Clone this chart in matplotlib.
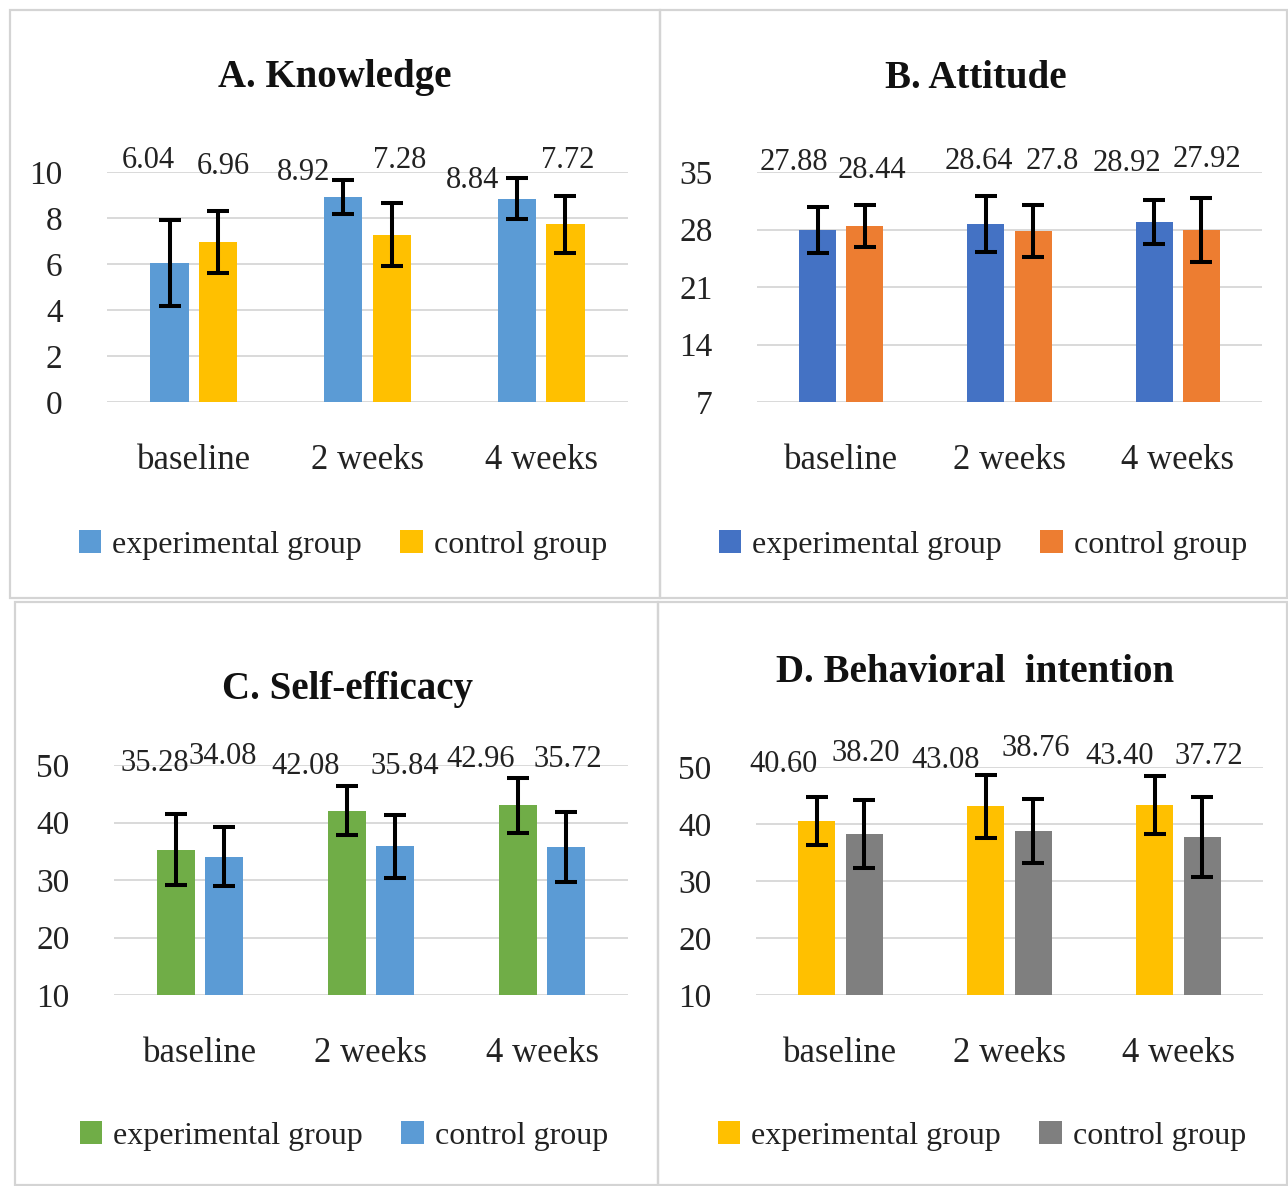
import matplotlib
matplotlib.use("Agg")
import matplotlib.pyplot as plt
from matplotlib.patches import Rectangle, Patch
import numpy as np

plt.rcParams['font.family'] = ['Liberation Serif', 'DejaVu Serif']

groups = ['baseline', '2 weeks', '4 weeks']
series_names = ['experimental group', 'control group']

knowledge_exp = [6.04, 8.92, 8.84]
knowledge_ctl = [6.96, 7.28, 7.72]
knowledge_exp_sd = [1.88, 0.75, 0.88]
knowledge_ctl_sd = [1.35, 1.37, 1.24]

attitude_exp = [27.88, 28.64, 28.92]
attitude_ctl = [28.44, 27.8, 27.92]
attitude_exp_sd = [2.8, 3.4, 2.7]
attitude_ctl_sd = [2.6, 3.2, 3.9]

efficacy_exp = [35.28, 42.08, 42.96]
efficacy_ctl = [34.08, 35.84, 35.72]
efficacy_exp_sd = [6.2, 4.2, 4.8]
efficacy_ctl_sd = [5.1, 5.5, 6.1]

intention_exp = [40.60, 43.08, 43.40]
intention_ctl = [38.20, 38.76, 37.72]
intention_exp_sd = [4.2, 5.5, 5.1]
intention_ctl_sd = [6.0, 5.6, 7.0]

W, H = 1288, 1186
fig = plt.figure(figsize=(W / 100, H / 100), dpi=100)


def fx(x):
    return x / W


def fy(y):
    return 1 - y / H


# panel frames (pixel boxes: x0, y0, x1, y1)
for x0, y0, x1, y1 in [(10, 10, 660, 598), (660, 10, 1287, 598),
                       (15, 602, 658, 1185), (658, 602, 1287, 1185)]:
    fig.add_artist(Rectangle((fx(x0), fy(y1)), fx(x1 - x0), (y1 - y0) / H,
                             transform=fig.transFigure, fill=False,
                             edgecolor='#d4d4d4', lw=1.6))

panels = [
    dict(title='A. Knowledge', exp=knowledge_exp, ctl=knowledge_ctl,
         exp_sd=knowledge_exp_sd, ctl_sd=knowledge_ctl_sd,
         colors=('#5b9bd5', '#ffc000'), ticks=[0, 2, 4, 6, 8, 10], fmt='{:.2f}',
         box=(107, 172, 628, 402), title_xy=(335, 78), legend_xy=(343, 545),
         lab_x=([-0.264, 0.634, 1.607], [0.168, 1.187, 2.154]),
         lab_y=([10.48, 10.0, 9.65], [10.26, 10.48, 10.48])),
    dict(title='B. Attitude', exp=attitude_exp, ctl=attitude_ctl,
         exp_sd=attitude_exp_sd, ctl_sd=attitude_ctl_sd,
         colors=('#4472c4', '#ed7d31'), ticks=[7, 14, 21, 28, 35], fmt='{:g}',
         box=(757, 172, 1262, 402), title_xy=(976, 78), legend_xy=(983, 545),
         lab_x=([-0.28, 0.819, 1.698], [0.183, 1.253, 2.174]),
         lab_y=([36.1, 36.3, 36.0], [35.2, 36.3, 36.5])),
    dict(title='C. Self-efficacy', exp=efficacy_exp, ctl=efficacy_ctl,
         exp_sd=efficacy_exp_sd, ctl_sd=efficacy_ctl_sd,
         colors=('#70ad47', '#5b9bd5'), ticks=[10, 20, 30, 40, 50], fmt='{:.2f}',
         box=(114, 765, 628, 995), title_xy=(347, 690), legend_xy=(344, 1136),
         lab_x=([-0.26, 0.62, 1.637], [0.136, 1.199, 2.15]),
         lab_y=([50.3, 49.8, 51.0], [51.4, 49.7, 51.0])),
    dict(title='D. Behavioral  intention', exp=intention_exp, ctl=intention_ctl,
         exp_sd=intention_exp_sd, ctl_sd=intention_ctl_sd,
         colors=('#ffc000', '#7f7f7f'), ticks=[10, 20, 30, 40, 50], fmt='{:.2f}',
         box=(756, 767, 1263, 995), title_xy=(975, 673), legend_xy=(982, 1136),
         lab_x=([-0.34, 0.624, 1.654], [0.151, 1.157, 2.18]),
         lab_y=([50.5, 51.1, 51.8], [52.3, 53.2, 51.8])),
]

x = np.arange(len(groups))
bw = 0.22
off = 0.14

for p in panels:
    x0, y0, x1, y1 = p['box']
    ax = fig.add_axes([fx(x0), fy(y1), fx(x1 - x0), (y1 - y0) / H])
    c_exp, c_ctl = p['colors']
    err_kw = dict(ecolor='black', elinewidth=2.9, capsize=8, capthick=2.9)
    ax.bar(x - off, p['exp'], bw, yerr=p['exp_sd'], color=c_exp,
           error_kw=err_kw, zorder=2)
    ax.bar(x + off, p['ctl'], bw, yerr=p['ctl_sd'], color=c_ctl,
           error_kw=err_kw, zorder=2)
    ax.set_xlim(-0.5, len(groups) - 0.5)
    ax.set_ylim(p['ticks'][0], p['ticks'][-1])
    ax.set_yticks(p['ticks'])
    ax.set_xticks(x)
    ax.set_xticklabels(groups, fontsize=25)
    ax.tick_params(axis='both', length=0, colors='#222222')
    ax.tick_params(axis='y', pad=32, labelsize=24)
    ax.tick_params(axis='x', pad=30)
    ax.grid(axis='y', color='#d9d9d9', lw=1.4, zorder=0)
    ax.set_axisbelow(True)
    for s in ax.spines.values():
        s.set_visible(False)

    # value labels above the bars
    for vals, xs, ys in [(p['exp'], p['lab_x'][0], p['lab_y'][0]),
                         (p['ctl'], p['lab_x'][1], p['lab_y'][1])]:
        for v, lx, ly in zip(vals, xs, ys):
            ax.text(lx, ly, p['fmt'].format(v), ha='center', va='center',
                    fontsize=22, color='#222222', clip_on=False)

    tx, ty = p['title_xy']
    fig.text(fx(tx), fy(ty), p['title'], ha='center', va='center',
             fontsize=28, fontweight='bold', color='#111111')

    lx, ly = p['legend_xy']
    handles = [Patch(facecolor=c_exp), Patch(facecolor=c_ctl)]
    fig.legend(handles, series_names, loc='center', ncol=2,
               bbox_to_anchor=(fx(lx), fy(ly)), frameon=False, fontsize=23,
               handlelength=0.7, handleheight=0.7, handletextpad=0.35,
               columnspacing=1.2, labelcolor='#222222')

fig.savefig('out.png', dpi=100, facecolor='white')
